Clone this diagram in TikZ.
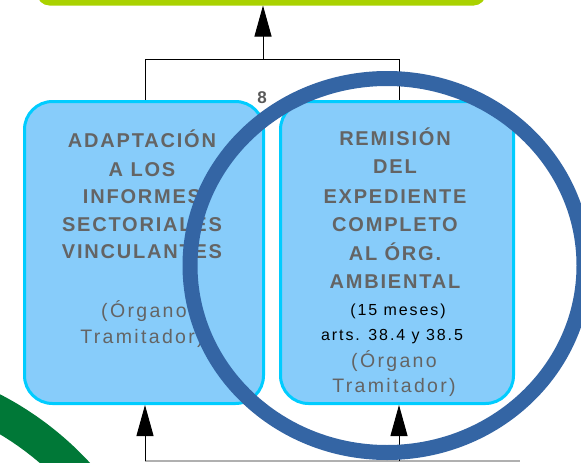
\documentclass[tikz,border=0pt]{standalone}
\usepackage{fontspec}
\setmainfont{Liberation Sans}
\newfontfamily\spfont[LetterSpace=9]{Liberation Sans}
\newfontfamily\spfontb[LetterSpace=12]{Liberation Sans}
\usetikzlibrary{arrows.meta}
\definecolor{boxfill}{RGB}{135,204,250}
\definecolor{boxline}{RGB}{0,204,255}
\definecolor{txtgray}{RGB}{100,100,100}
\definecolor{ringblue}{RGB}{52,101,164}
\definecolor{arcgreen}{RGB}{0,120,55}
\definecolor{topgreen}{RGB}{170,210,0}
\definecolor{linegray}{RGB}{176,176,176}
\tikzset{
  box/.style={draw=boxline, line width=3pt, fill=boxfill, rounded corners=28pt, minimum height=302pt, inner sep=0pt},
  ttl/.style={anchor=base, inner sep=0pt, text=txtgray, font=\spfont\bfseries\fontsize{20}{20}\selectfont},
  org/.style={anchor=base, inner sep=0pt, text=txtgray, font=\spfontb\fontsize{19.5}{19.5}\selectfont},
  sml/.style={anchor=base, inner sep=0pt, text=black, font=\spfontb\fontsize{16}{16}\selectfont},
  conn/.style={draw=black, line width=1pt},
  arr/.style={conn, -{Triangle[length=31pt,width=17pt]}},
}
\begin{document}
\begin{tikzpicture}[x=1pt,y=-1pt]
\useasboundingbox (0,0) rectangle (581,463);
\clip (0,0) rectangle (581,463);
% top green box
\node[draw=topgreen, fill=topgreen, line width=5pt, rounded corners=10pt, minimum width=444pt, minimum height=50pt] (T) at (261.5,-22) {};
% green arc lower left
\draw[arcgreen, line width=35pt] (-148,682) circle[radius=306];
% connectors top
\coordinate (jl) at (145,59);
\coordinate (jt) at (263,59);
\coordinate (jr) at (399,59);
% boxes
\node[box, minimum width=239pt] (L) at (144,252.5) {};
\node[box, minimum width=233pt] (R) at (397,252.5) {};
\draw[conn] (jl |- L.north) -- (jl) -- (jr) -- (jr |- R.north);
\draw[arr] (jt) -- (jt |- T.south);
% bottom connectors
\coordinate (gl) at (145,461);
\coordinate (gm) at (399,461);
\coordinate (ge) at (520,461);
\draw[linegray, line width=2pt] (gl) -- (ge);
\draw[arr] (gl) -- (gl |- L.south);
\draw[arr] (gm) -- (gm |- R.south);
% label 8
\node[text=black!65, font=\bfseries\fontsize{17}{17}\selectfont, inner sep=0pt, anchor=base] (n8) at (262,103) {8};
% left box texts
\node[ttl] (l1) at (142,147) {ADAPTACIÓN};
\node[ttl] (l2) at (142,176) {A LOS};
\node[ttl] (l3) at (142,203) {INFORMES};
\node[ttl] (l4) at (142,231) {SECTORIALES};
\node[ttl] (l5) at (142,258) {VINCULANTES};
\node[org] (l6) at (144,317) {(Órgano};
\node[org] (l7) at (142,343) {Tramitador)};
% right box texts
\node[ttl] (r1) at (395,145) {REMISIÓN};
\node[ttl] (r2) at (395,173) {DEL};
\node[ttl] (r3) at (395,203) {EXPEDIENTE};
\node[ttl] (r4) at (395,231) {COMPLETO};
\node[ttl] (r5) at (395,260) {AL ÓRG.};
\node[ttl] (r6) at (395,288) {AMBIENTAL};
\node[sml] (r7) at (398,315) {(15 meses)};
\node[sml] (r8) at (392,340) {arts. 38.4 y 38.5};
\node[org] (r9) at (394,367) {(Órgano};
\node[org] (r10) at (394,392) {Tramitador)};
% blue ring
\draw[ringblue, line width=15pt] (387,265.5) ellipse[x radius=197, y radius=187];
\end{tikzpicture}
\end{document}
